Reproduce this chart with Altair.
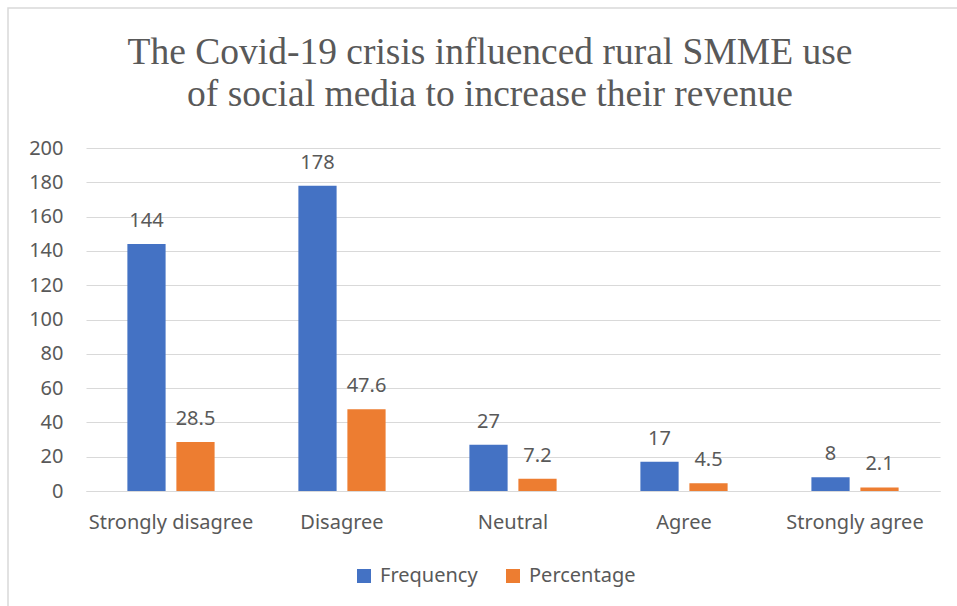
import altair as alt
import pandas as pd

categories = ["Strongly disagree", "Disagree", "Neutral", "Agree", "Strongly agree"]
frequency = [144, 178, 27, 17, 8]
percentage = [28.5, 47.6, 7.2, 4.5, 2.1]
series_names = ["Frequency", "Percentage"]
colors = ["#4472C4", "#ED7D31"]
y_ticks = [0, 20, 40, 60, 80, 100, 120, 140, 160, 180, 200]

rows = []
for c, f, p in zip(categories, frequency, percentage):
    rows.append({"category": c, "series": "Frequency", "value": f})
    rows.append({"category": c, "series": "Percentage", "value": p})
df = pd.DataFrame(rows)

W, H = 854, 343
TXT = "#595959"
FONT = "Noto Sans"
FS = 20

base = alt.Chart(df).encode(
    x=alt.X("category:N", sort=categories, title=None,
            scale=alt.Scale(paddingInner=0.49, paddingOuter=0.242),
            axis=alt.Axis(labelAngle=0, labelPadding=21, ticks=False, domain=True,
                          domainColor="#D9D9D9", labelFontSize=FS, labelColor=TXT,
                          labelFont=FONT, grid=False, labelOverlap=False)),
    xOffset=alt.XOffset("series:N", sort=series_names,
                        scale=alt.Scale(paddingInner=0.22, paddingOuter=0)),
    y=alt.Y("value:Q", title=None,
            scale=alt.Scale(domain=[0, 200], nice=False),
            axis=alt.Axis(values=y_ticks, tickCount=20, ticks=False, domain=False,
                          labelPadding=23, labelFontSize=FS, labelColor=TXT,
                          labelFont=FONT, gridColor="#D9D9D9", gridWidth=1,
                          labelOverlap=False)),
)

bars = base.mark_bar().encode(
    color=alt.Color("series:N", sort=series_names,
                    scale=alt.Scale(domain=series_names, range=colors),
                    legend=alt.Legend(title=None, orient="none", direction="horizontal",
                                      legendX=268, legendY=418,
                                      symbolType="square", symbolSize=196,
                                      symbolStrokeWidth=0, labelOffset=6,
                                      labelFontSize=FS, labelColor=TXT, labelFont=FONT,
                                      columnPadding=25)),
)

labels = base.mark_text(baseline="alphabetic", dy=-17, fontSize=FS,
                        color=TXT, font=FONT).encode(
    text=alt.Text("value:Q"),
)

border = alt.Chart(pd.DataFrame({"k": [0]})).mark_rect(
    fill=None, stroke="#D9D9D9", strokeWidth=1.5
).encode(
    x=alt.value(-78), x2=alt.value(W + 60),
    y=alt.value(-140), y2=alt.value(H + 200),
)

chart = alt.layer(border, bars, labels).properties(
    width=W, height=H,
    background="white",
    title=alt.TitleParams(
        ["The Covid-19 crisis influenced rural SMME use",
         "of social media to increase their revenue"],
        font="Liberation Serif", fontSize=37.5, fontWeight="normal",
        color=TXT, lineHeight=42, anchor="middle", offset=-106, dx=-23,
    ),
    autosize=alt.AutoSizeParams(type="none"),
    padding={"left": 86, "top": 148, "right": 17, "bottom": 115},
).configure_view(strokeWidth=0, stroke="transparent")

chart.save("out.html", embed_options={"renderer": "svg", "actions": False})
